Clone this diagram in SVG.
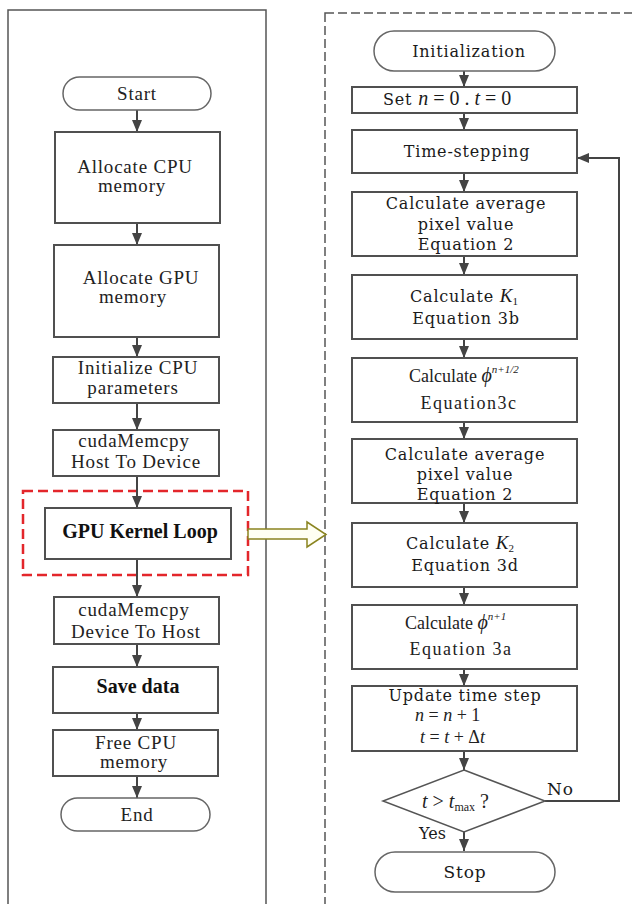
<svg xmlns="http://www.w3.org/2000/svg" width="632" height="904" viewBox="0 0 632 904">
<style>
.bg{fill:#fff}
.box{fill:#fff;stroke:#505050;stroke-width:2}
.pill{fill:#fff;stroke:#666;stroke-width:1.5}
.panel{fill:none;stroke:#555;stroke-width:1.5}
.dpanel{fill:none;stroke:#555;stroke-width:1.5;stroke-dasharray:9 4}
.red{fill:none;stroke:#e3262b;stroke-width:2.5;stroke-dasharray:10 5}
.conn{fill:none;stroke:#444;stroke-width:2}
.l{font-family:"Liberation Serif",serif;font-size:19px;letter-spacing:0.8px;fill:#222;text-anchor:middle}
.lb{font-family:"Liberation Serif",serif;font-size:20px;font-weight:bold;fill:#111;text-anchor:middle}
.r{font-family:"DejaVu Serif",serif;font-size:16px;letter-spacing:0.8px;fill:#1a1a1a;text-anchor:middle}
.t{font-family:"Liberation Serif",serif;font-size:18px;fill:#222;text-anchor:middle}
.mi{font-family:"Liberation Serif","DejaVu Serif",serif;font-style:italic;font-size:20px;letter-spacing:0}
.mr{font-family:"Liberation Serif",serif;font-size:20px;letter-spacing:0}
.sup{font-family:"Liberation Serif",serif;font-style:italic;font-size:11px;letter-spacing:0}
</style>
<defs>
<marker id="ah" viewBox="0 0 12 10" refX="12" refY="5" markerWidth="12" markerHeight="10" markerUnits="userSpaceOnUse" orient="auto">
<path d="M0,0 L12,5 L0,10 z" fill="#444"/>
</marker>
</defs>
<rect class="bg" x="0" y="0" width="632" height="904"/>

<g id="panels">
<rect class="panel" x="8" y="10" width="258" height="900"/>
<rect class="dpanel" x="325" y="13" width="320" height="900"/>
<rect class="red" x="23" y="491" width="225" height="84"/>
</g>

<g id="connectors">
<line class="conn" x1="137" y1="110" x2="137" y2="132" marker-end="url(#ah)"/>
<line class="conn" x1="137" y1="223" x2="137" y2="245" marker-end="url(#ah)"/>
<line class="conn" x1="137" y1="337" x2="137" y2="357" marker-end="url(#ah)"/>
<line class="conn" x1="137" y1="403" x2="137" y2="430" marker-end="url(#ah)"/>
<line class="conn" x1="137" y1="476" x2="137" y2="508" marker-end="url(#ah)"/>
<line class="conn" x1="137" y1="559" x2="137" y2="597" marker-end="url(#ah)"/>
<line class="conn" x1="137" y1="644" x2="137" y2="667" marker-end="url(#ah)"/>
<line class="conn" x1="137" y1="713" x2="137" y2="730" marker-end="url(#ah)"/>
<line class="conn" x1="137" y1="776" x2="137" y2="798" marker-end="url(#ah)"/>
<polygon points="248,529 307,529 307,522 326,534.5 307,547 307,539 248,539" fill="#fffff2" stroke="#8a8420" stroke-width="1.5"/>
<line class="conn" x1="464" y1="71" x2="464" y2="87" marker-end="url(#ah)"/>
<line class="conn" x1="464" y1="113" x2="464" y2="130" marker-end="url(#ah)"/>
<line class="conn" x1="464" y1="173" x2="464" y2="192" marker-end="url(#ah)"/>
<line class="conn" x1="464" y1="256" x2="464" y2="275" marker-end="url(#ah)"/>
<line class="conn" x1="464" y1="339" x2="464" y2="358" marker-end="url(#ah)"/>
<line class="conn" x1="464" y1="422" x2="464" y2="439" marker-end="url(#ah)"/>
<line class="conn" x1="464" y1="503" x2="464" y2="523" marker-end="url(#ah)"/>
<line class="conn" x1="464" y1="587" x2="464" y2="605" marker-end="url(#ah)"/>
<line class="conn" x1="464" y1="669" x2="464" y2="686" marker-end="url(#ah)"/>
<line class="conn" x1="464" y1="751" x2="464" y2="770" marker-end="url(#ah)"/>
<line class="conn" x1="464" y1="832" x2="464" y2="851" marker-end="url(#ah)"/>
<polyline class="conn" points="545,801 619,801 619,158 577,158" marker-end="url(#ah)"/>
<text x="547" y="795" class="r" style="text-anchor:start;font-size:17px">No</text>
<text x="419" y="839" class="r" style="text-anchor:start;font-size:16px;letter-spacing:0">Yes</text>
</g>

<g id="start"><rect class="pill" x="63" y="77" width="148" height="33" rx="16.5"/><text class="l" x="137" y="100">Start</text></g>
<g id="alloc-cpu"><rect class="box" x="55" y="132" width="165" height="91"/><text class="l" x="135" y="173">Allocate CPU</text><text class="l" x="132" y="192">memory</text></g>
<g id="alloc-gpu"><rect class="box" x="54" y="245" width="165" height="92"/><text class="l" x="141" y="284">Allocate GPU</text><text class="l" x="133" y="303">memory</text></g>
<g id="init-cpu"><rect class="box" x="53" y="357" width="166" height="46"/><text class="l" x="138" y="374">Initialize CPU</text><text class="l" x="133" y="394">parameters</text></g>
<g id="h2d"><rect class="box" x="53" y="430" width="166" height="46"/><text class="l" x="134" y="447">cudaMemcpy</text><text class="l" x="136" y="468">Host To Device</text></g>
<g id="gpu-loop"><rect class="box" x="45" y="508" width="186" height="51"/><text class="lb" x="140" y="538">GPU Kernel Loop</text></g>
<g id="d2h"><rect class="box" x="54" y="597" width="165" height="47"/><text class="l" x="134" y="616">cudaMemcpy</text><text class="l" x="136" y="638">Device To Host</text></g>
<g id="save"><rect class="box" x="53" y="667" width="165" height="46"/><text class="lb" x="138" y="693">Save data</text></g>
<g id="free"><rect class="box" x="53" y="730" width="165" height="46"/><text class="l" x="136" y="749">Free CPU</text><text class="l" x="134" y="768">memory</text></g>
<g id="end"><rect class="pill" x="61" y="798" width="149" height="33" rx="16.5"/><text class="l" x="137" y="821">End</text></g>

<g id="init"><rect class="pill" x="374" y="31" width="181" height="40" rx="20"/><text class="r" x="469" y="57">Initialization</text></g>
<g id="set"><rect class="box" x="352" y="87" width="225" height="26"/><text class="r" x="383" y="105" style="text-anchor:start">Set <tspan class="mi">n</tspan><tspan class="mr"> = 0 . </tspan><tspan class="mi">t</tspan><tspan class="mr"> = 0</tspan></text></g>
<g id="time"><rect class="box" x="352" y="130" width="225" height="43"/><text class="r" x="467" y="157">Time-stepping</text></g>
<g id="avg1"><rect class="box" x="352" y="192" width="225" height="64"/><text class="r" x="466" y="209">Calculate average</text><text class="r" x="466" y="230">pixel value</text><text class="r" x="466" y="250">Equation 2</text></g>
<g id="k1"><rect class="box" x="352" y="275" width="225" height="64"/><text class="r" x="410" y="302" style="text-anchor:start">Calculate <tspan class="mi" style="font-size:19px">K</tspan><tspan class="mr" style="font-size:11px" dy="3">1</tspan></text><text class="r" x="466" y="324">Equation 3b</text></g>
<g id="phi-half"><rect class="box" x="352" y="358" width="225" height="64"/><text class="t" x="409" y="382" style="text-anchor:start">Calculate <tspan class="mi" style="font-size:20px">ϕ</tspan><tspan class="sup" dy="-9">n+1/2</tspan></text><text class="t" x="469" y="409" style="letter-spacing:1.5px">Equation3c</text></g>
<g id="avg2"><rect class="box" x="352" y="439" width="225" height="64"/><text class="r" x="465" y="460">Calculate average</text><text class="r" x="465" y="480">pixel value</text><text class="r" x="465" y="500">Equation 2</text></g>
<g id="k2"><rect class="box" x="352" y="523" width="225" height="64"/><text class="r" x="406" y="549" style="text-anchor:start">Calculate <tspan class="mi" style="font-size:19px">K</tspan><tspan class="mr" style="font-size:11px" dy="3">2</tspan></text><text class="r" x="465" y="571">Equation 3d</text></g>
<g id="phi-full"><rect class="box" x="352" y="605" width="225" height="64"/><text class="t" x="405" y="629" style="text-anchor:start">Calculate <tspan class="mi" style="font-size:20px">ϕ</tspan><tspan class="sup" dy="-9">n+1</tspan></text><text class="t" x="461" y="655" style="letter-spacing:1.5px">Equation 3a</text></g>
<g id="update"><rect class="box" x="352" y="686" width="225" height="65"/><text class="r" x="465" y="701">Update time step</text><text x="415" y="721" class="mr" style="fill:#222;font-size:18px"><tspan class="mi" style="font-size:18px">n</tspan> = <tspan class="mi" style="font-size:18px">n</tspan> + 1</text><text x="420" y="743" class="mr" style="fill:#222;font-size:18px"><tspan class="mi" style="font-size:18px">t</tspan> = <tspan class="mi" style="font-size:18px">t</tspan> + Δ<tspan class="mi" style="font-size:18px">t</tspan></text></g>
<g id="decision"><polygon points="464,770 545,801 464,832 383,801" fill="#fff" stroke="#555" stroke-width="1.5"/><text x="422" y="808" class="mr" style="fill:#222"><tspan class="mi">t</tspan> &gt; <tspan class="mi">t</tspan><tspan style="font-size:12px" dy="3">max</tspan><tspan dy="-3"> ?</tspan></text></g>
<g id="stop"><rect class="pill" x="375" y="852" width="180" height="40" rx="20"/><text class="r" x="465" y="878" style="font-size:17px">Stop</text></g>
</svg>
